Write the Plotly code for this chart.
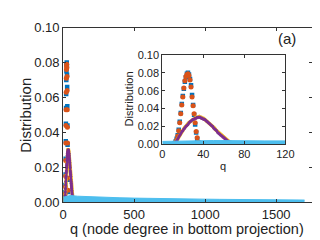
import plotly.graph_objects as go

# ---- data ----
q_bo = list(range(12, 36))
blue_vals = [0.001, 0.003, 0.006, 0.010, 0.016, 0.025, 0.035, 0.045, 0.054, 0.062, 0.070, 0.075,
             0.079, 0.080, 0.078, 0.073, 0.066, 0.055, 0.044, 0.033, 0.022, 0.013, 0.006, 0.002]
orange_vals = [0.001, 0.002, 0.005, 0.009, 0.015, 0.024, 0.034, 0.044, 0.053, 0.063, 0.071, 0.076,
               0.078, 0.079, 0.077, 0.072, 0.064, 0.053, 0.043, 0.034, 0.024, 0.014, 0.007, 0.002]

q_yp = list(range(12, 71))
purple_vals = [0.000, 0.002, 0.004, 0.006, 0.008, 0.010, 0.012, 0.014, 0.015, 0.017, 0.018, 0.020,
               0.021, 0.022, 0.024, 0.025, 0.026, 0.027, 0.028, 0.028, 0.029, 0.029, 0.030, 0.030,
               0.030, 0.030, 0.029, 0.029, 0.028, 0.028, 0.027, 0.026, 0.025, 0.024, 0.023, 0.022,
               0.021, 0.020, 0.018, 0.017, 0.016, 0.015, 0.013, 0.012, 0.011, 0.010, 0.009, 0.008,
               0.007, 0.006, 0.005, 0.004, 0.003, 0.003, 0.002, 0.002, 0.001, 0.001, 0.000]
yellow_vals = [0.000, 0.002, 0.004, 0.006, 0.008, 0.010, 0.012, 0.014, 0.016, 0.017, 0.019, 0.020,
               0.022, 0.023, 0.024, 0.025, 0.026, 0.027, 0.028, 0.029, 0.029, 0.030, 0.030, 0.031,
               0.031, 0.030, 0.030, 0.029, 0.029, 0.028, 0.027, 0.027, 0.026, 0.025, 0.024, 0.022,
               0.021, 0.020, 0.019, 0.018, 0.016, 0.015, 0.014, 0.013, 0.011, 0.010, 0.009, 0.008,
               0.007, 0.006, 0.005, 0.004, 0.003, 0.003, 0.002, 0.002, 0.001, 0.001, 0.000]

q_lb = [0, 50, 100, 200, 300, 400, 500, 600, 700, 800, 900, 1000, 1100, 1200, 1300, 1400, 1500, 1600, 1700]
lb_vals = [0.0030, 0.0040, 0.0036, 0.0032, 0.0029, 0.0027, 0.0025, 0.0023, 0.0022, 0.0021, 0.0020,
           0.0019, 0.0018, 0.0017, 0.0016, 0.0016, 0.0015, 0.0014, 0.0014]

main_xticks = [0, 500, 1000, 1500]
inset_xticks = [0, 40, 80, 120]
yticks = [0.00, 0.02, 0.04, 0.06, 0.08, 0.10]

BLUE = "#0072BD"
ORANGE = "#D95319"
YELLOW = "#EDB120"
PURPLE = "#7E2F8E"
LBLUE = "#4DBEEE"
FONT = "Liberation Sans, Arial, sans-serif"
TXT = "#222222"

fig = go.Figure()

def add_series(xa, ya):
    fig.add_trace(go.Scatter(x=q_bo, y=blue_vals, mode="markers", xaxis=xa, yaxis=ya,
                             marker=dict(symbol="square", size=4.5, color=BLUE), showlegend=False))
    fig.add_trace(go.Scatter(x=q_bo, y=orange_vals, mode="markers", xaxis=xa, yaxis=ya,
                             marker=dict(symbol="circle", size=5, color=ORANGE), showlegend=False))
    fig.add_trace(go.Scatter(x=q_yp, y=yellow_vals, mode="lines", xaxis=xa, yaxis=ya,
                             line=dict(color=YELLOW, width=3.5), showlegend=False))
    fig.add_trace(go.Scatter(x=q_yp, y=purple_vals, mode="lines+markers", xaxis=xa, yaxis=ya,
                             line=dict(color=PURPLE, width=2),
                             marker=dict(size=3, color=PURPLE), showlegend=False))
    fig.add_trace(go.Scatter(x=q_lb, y=lb_vals, mode="lines", xaxis=xa, yaxis=ya,
                             fill="tozeroy", fillcolor=LBLUE,
                             line=dict(color=LBLUE, width=1), showlegend=False))

add_series("x", "y")
add_series("x2", "y2")

axis_common = dict(showgrid=False, zeroline=False, showline=True, linecolor="#333333", linewidth=1,
                   mirror="ticks", ticks="inside", tickcolor="#333333", ticklen=3)

main_tf = dict(family=FONT, color=TXT, size=13)
inset_tf = dict(family=FONT, color=TXT, size=11)

fig.update_layout(
    width=320, height=240,
    margin=dict(l=0, r=0, t=0, b=0),
    paper_bgcolor="white", plot_bgcolor="white",
    font=dict(family=FONT, color=TXT),
    xaxis=dict(domain=[0.1667, 0.976], range=[0, 1750], tickvals=main_xticks,
               tickfont=main_tf, **axis_common),
    yaxis=dict(domain=[0.1667, 0.9444], range=[0, 0.1], tickvals=yticks, tickformat=".2f",
               tickfont=main_tf, **axis_common),
    xaxis2=dict(domain=[0.4896, 0.8906], range=[0, 120], tickvals=inset_xticks, anchor="y2",
                tickfont=inset_tf, **axis_common),
    yaxis2=dict(domain=[0.4263, 0.8221], range=[0, 0.1], tickvals=yticks, tickformat=".2f", anchor="x2",
                tickfont=inset_tf, **axis_common),
    annotations=[
        dict(text="Distribution", x=14 / 320, y=1 - 107 / 240, xref="paper", yref="paper",
             textangle=-90, showarrow=False, font=dict(size=15, family=FONT, color=TXT),
             xanchor="center", yanchor="middle"),
        dict(text="q (node degree in bottom projection)", x=182 / 320, y=1 - 228 / 240,
             xref="paper", yref="paper", showarrow=False,
             font=dict(size=14.5, family=FONT, color=TXT), xanchor="center", yanchor="middle"),
        dict(text="(a)", x=287 / 320, y=1 - 25 / 240, xref="paper", yref="paper", showarrow=False,
             font=dict(size=15, family=FONT, color=TXT), xanchor="center", yanchor="middle"),
        dict(text="Distribution", x=122 / 320, y=1 - 90 / 240, xref="paper", yref="paper",
             textangle=-90, showarrow=False, font=dict(size=11, family=FONT, color=TXT),
             xanchor="center", yanchor="middle"),
        dict(text="q", x=220 / 320, y=1 - 161 / 240, xref="paper", yref="paper", showarrow=False,
             font=dict(size=11, family=FONT, color=TXT), xanchor="center", yanchor="middle"),
    ],
)

fig.write_html("out.html")
